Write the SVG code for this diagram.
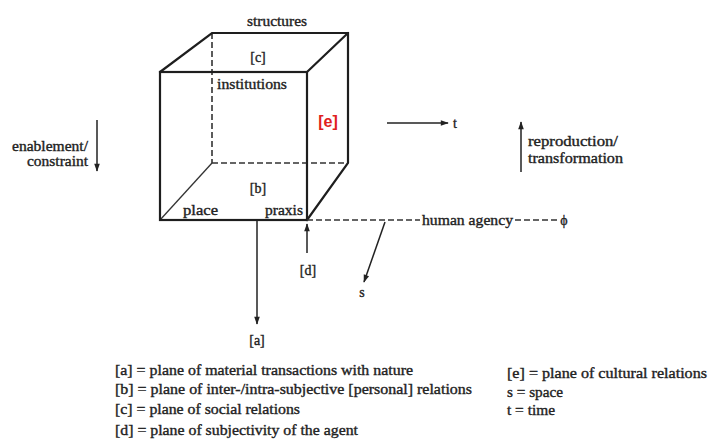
<svg xmlns="http://www.w3.org/2000/svg" width="708" height="442" viewBox="0 0 708 442">
<style>
  text { font-family: "Liberation Serif", "Times New Roman", serif; fill: #222222; stroke: #222222; stroke-width: 0.35; font-size: 14px; }
  .solid { stroke: #1e1e1e; stroke-width: 2.2; fill: none; stroke-linecap: round; }
  .dash { stroke: #333333; stroke-width: 1.6; fill: none; stroke-dasharray: 6 3; }
  .thin { stroke: #333333; stroke-width: 1.3; fill: none; }
  .arrow { stroke: #222222; stroke-width: 1.5; fill: none; marker-end: url(#ah); }
  text.red { fill: #e02020; stroke: none; font-family: "Liberation Sans", Arial, sans-serif; font-weight: bold; font-size: 16px; }
</style>
<defs>
  <marker id="ah" viewBox="0 0 10 10" refX="9" refY="5" markerWidth="9" markerHeight="8" markerUnits="userSpaceOnUse" orient="auto">
    <path d="M0,1.5 L10,5 L0,8.5 Z" fill="#222222"/>
  </marker>
</defs>
<rect width="708" height="442" fill="#ffffff"/>

<g id="cube">
  <line class="dash" x1="212" y1="33" x2="212" y2="163"/>
  <line class="dash" x1="212" y1="163" x2="348" y2="163"/>
  <line class="thin" x1="160" y1="220" x2="212" y2="163"/>
  <rect class="solid" x="160" y="72" width="147" height="148"/>
  <polyline class="solid" points="160,72 212,33 348,33 348,163 307,220"/>
  <line class="solid" x1="307" y1="72" x2="348" y2="33"/>
</g>

<g id="cube-labels">
  <text x="277" y="26" text-anchor="middle" textLength="60" lengthAdjust="spacingAndGlyphs">structures</text>
  <text x="258" y="62" text-anchor="middle">[c]</text>
  <text x="217" y="89" textLength="70" lengthAdjust="spacingAndGlyphs">institutions</text>
  <text id="e-label" class="red" x="328" y="127" text-anchor="middle">[e]</text>
  <text x="258" y="193" text-anchor="middle">[b]</text>
  <text x="183" y="215" textLength="35" lengthAdjust="spacingAndGlyphs">place</text>
  <text x="265" y="215" textLength="38" lengthAdjust="spacingAndGlyphs">praxis</text>
</g>

<g id="connectors">
  <line class="dash" x1="307" y1="220" x2="420" y2="220"/>
  <line class="dash" x1="515" y1="220" x2="557" y2="220" stroke-dasharray="8 3"/>
  <line class="arrow" x1="257" y1="221" x2="257" y2="324"/>
  <line class="arrow" x1="307" y1="253" x2="307" y2="224"/>
  <line class="arrow" x1="385" y1="222" x2="364" y2="282"/>
  <line class="arrow" x1="387" y1="123" x2="448" y2="123"/>
  <line class="arrow" x1="97" y1="120" x2="97" y2="171"/>
  <line class="arrow" x1="521" y1="172" x2="521" y2="122"/>
</g>

<g id="axis-labels">
  <text x="455" y="128" text-anchor="middle">t</text>
  <text x="88" y="151" text-anchor="end" textLength="76" lengthAdjust="spacingAndGlyphs">enablement/</text>
  <text x="88" y="166" text-anchor="end" textLength="61" lengthAdjust="spacingAndGlyphs">constraint</text>
  <text x="528" y="146" textLength="90" lengthAdjust="spacingAndGlyphs">reproduction/</text>
  <text x="528" y="163" textLength="95" lengthAdjust="spacingAndGlyphs">transformation</text>
  <text x="422" y="225" textLength="91" lengthAdjust="spacingAndGlyphs">human agency</text>
  <text x="564" y="225" text-anchor="middle">ϕ</text>
  <text x="308" y="275" text-anchor="middle">[d]</text>
  <text x="362" y="297" text-anchor="middle">s</text>
  <text x="257" y="345" text-anchor="middle">[a]</text>
</g>

<g id="legend-left">
  <text x="115" y="375" textLength="298" lengthAdjust="spacingAndGlyphs">[a] = plane of material transactions with nature</text>
  <text x="115" y="394" textLength="357" lengthAdjust="spacingAndGlyphs">[b] = plane of inter-/intra-subjective [personal] relations</text>
  <text x="115" y="414" textLength="185" lengthAdjust="spacingAndGlyphs">[c] = plane of social relations</text>
  <text x="115" y="435" textLength="243" lengthAdjust="spacingAndGlyphs">[d] = plane of subjectivity of the agent</text>
</g>

<g id="legend-right">
  <text x="507" y="378" textLength="200" lengthAdjust="spacingAndGlyphs">[e] = plane of cultural relations</text>
  <text x="507" y="397" textLength="56" lengthAdjust="spacingAndGlyphs">s = space</text>
  <text x="507" y="415" textLength="48" lengthAdjust="spacingAndGlyphs">t = time</text>
</g>
</svg>
